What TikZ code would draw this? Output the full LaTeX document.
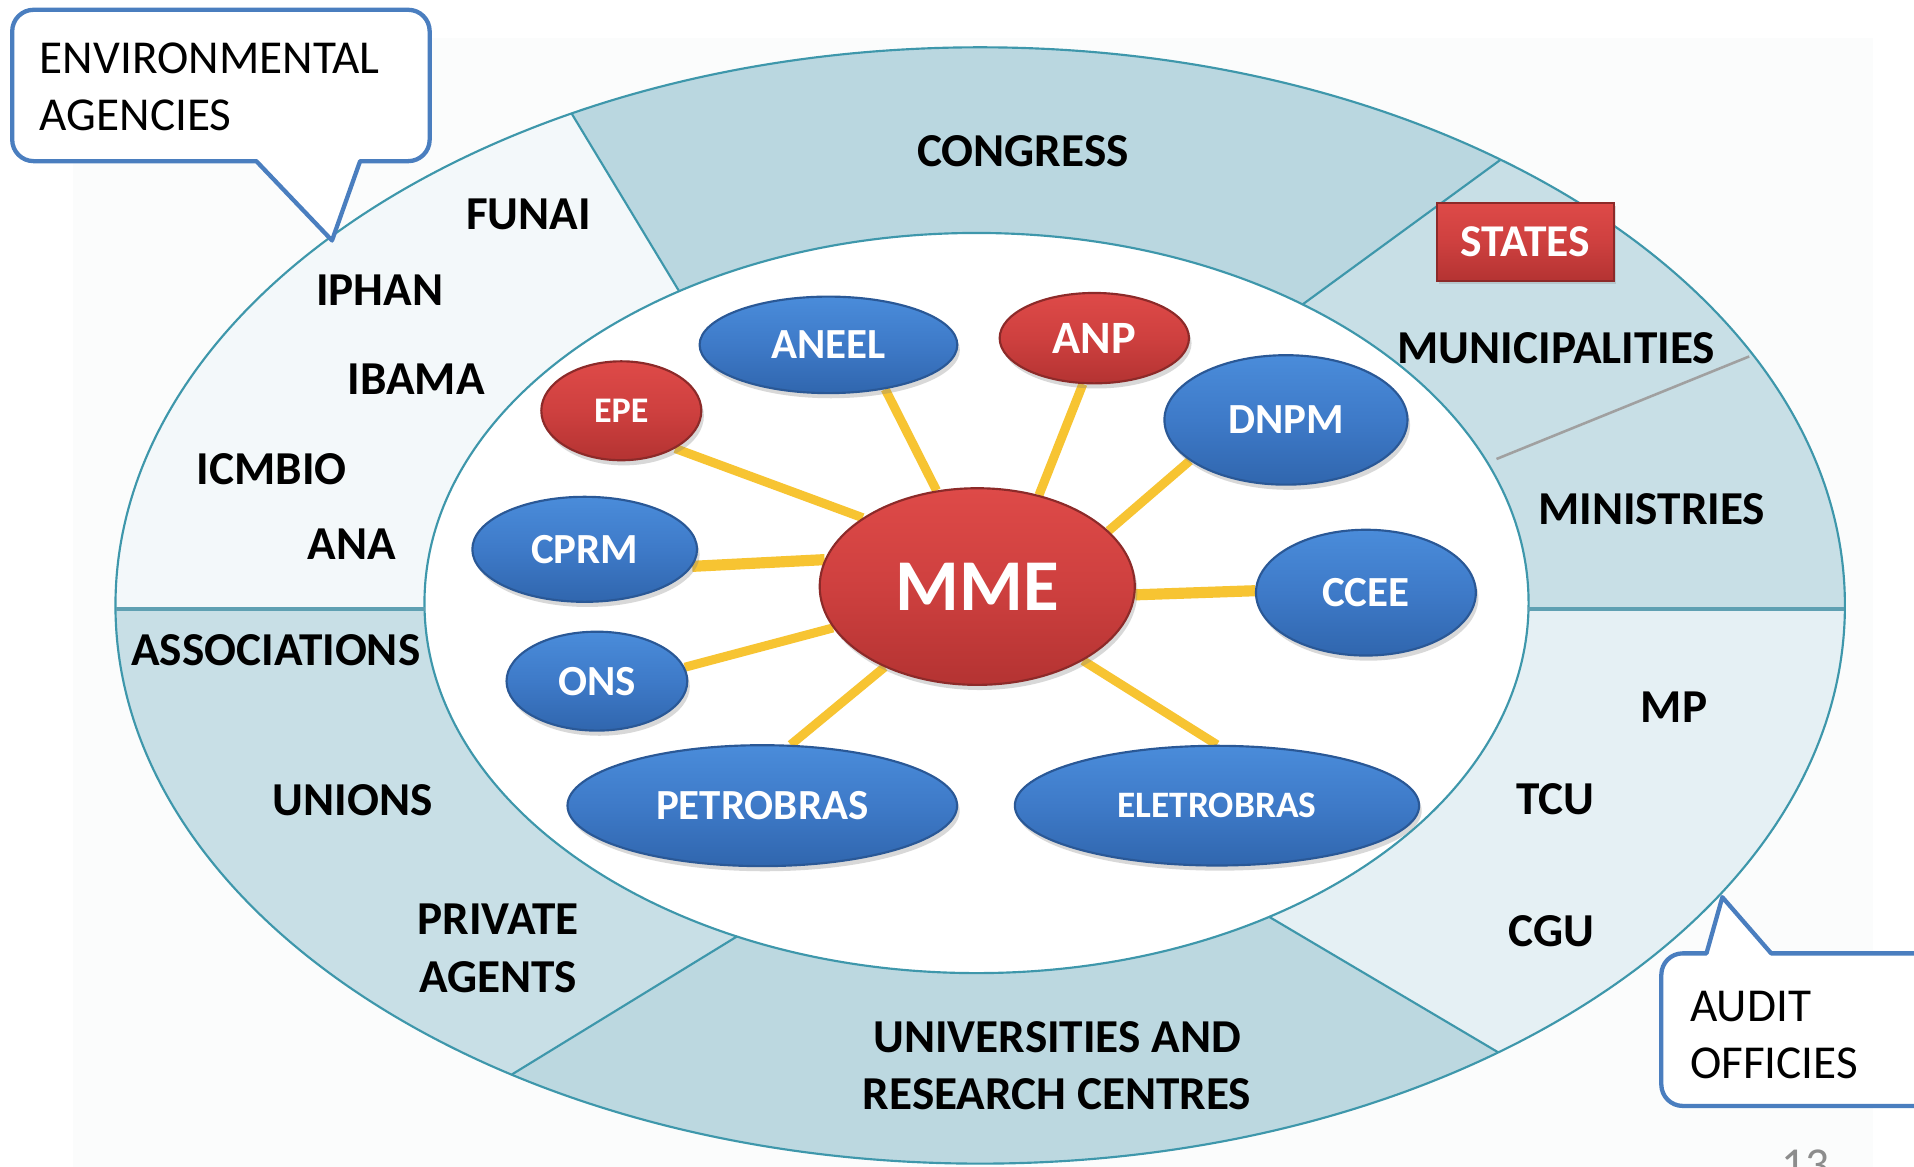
\documentclass[tikz,border=0pt]{standalone}
\usepackage{fontspec}
\setmainfont{Carlito}
\usetikzlibrary{shapes.geometric,shadows}
\definecolor{slidebg}{RGB}{251,252,252}
\definecolor{envfill}{RGB}{243,248,250}
\definecolor{congfill}{RGB}{186,215,224}
\definecolor{statefill}{RGB}{200,223,230}
\definecolor{auditfill}{RGB}{229,240,244}
\definecolor{univfill}{RGB}{188,216,224}
\definecolor{assocfill}{RGB}{200,223,230}
\definecolor{ringline}{RGB}{62,151,171}
\definecolor{divline}{RGB}{95,160,178}
\definecolor{grayline}{RGB}{160,160,160}
\definecolor{blueTop}{RGB}{74,140,218}
\definecolor{blueMid}{RGB}{62,122,200}
\definecolor{blueBot}{RGB}{48,102,174}
\definecolor{blueEdge}{RGB}{42,88,150}
\definecolor{redTop}{RGB}{222,74,72}
\definecolor{redMid}{RGB}{206,64,63}
\definecolor{redBot}{RGB}{180,51,50}
\definecolor{redEdge}{RGB}{140,42,41}
\definecolor{connyellow}{RGB}{247,196,50}
\definecolor{calloutblue}{RGB}{74,126,191}
\definecolor{pagegray}{RGB}{140,140,140}
\pgfdeclarelayer{ring}
\pgfdeclarelayer{conn}
\pgfsetlayers{ring,conn,main}
\begin{document}
\begin{tikzpicture}[x=0.01cm,y=-0.01cm,
  bluenode/.style={ellipse, inner sep=0pt, draw=blueEdge, line width=0.5pt,
    top color=blueTop, bottom color=blueBot, middle color=blueMid, text=white,
    font=\fontsize{10}{12}\selectfont\bfseries,
    drop shadow={shadow xshift=0.6pt, shadow yshift=-1.2pt, opacity=0.3}},
  rednode/.style={ellipse, inner sep=0pt, draw=redEdge, line width=0.5pt,
    top color=redTop, bottom color=redBot, middle color=redMid, text=white,
    font=\fontsize{10}{12}\selectfont\bfseries,
    drop shadow={shadow xshift=0.6pt, shadow yshift=-1.2pt, opacity=0.3}},
  connline/.style={draw=connyellow, line width=2.1pt},
  ringlbl/.style={inner sep=0pt, align=center, text=black,
    font=\fontsize{11}{13.4}\selectfont\bfseries},
  calloutbox/.style={draw=calloutblue, line width=1pt, fill=white, line join=round},
  callouttxt/.style={inner sep=0pt, align=left, anchor=north west,
    font=\fontsize{11}{13.4}\selectfont},
  ringedge/.style={draw=ringline, line width=0.5pt},
]
\useasboundingbox (0,0) rectangle (1568,956);

% ---------- central nodes ----------
\node[rednode, minimum width=2.58cm, minimum height=1.61cm,
      font=\fontsize{17}{20}\selectfont\bfseries] (MME) at (800.6,480.5) {MME};
\node[bluenode, minimum width=2.11cm, minimum height=0.79cm] (ANEEL) at (678.7,282.5) {ANEEL};
\node[rednode, minimum width=1.55cm, minimum height=0.74cm,
      font=\fontsize{10.8}{12}\selectfont\bfseries] (ANP) at (896.5,277) {ANP};
\node[rednode, minimum width=1.31cm, minimum height=0.81cm,
      font=\fontsize{8.4}{10}\selectfont\bfseries] (EPE) at (509,336.5) {EPE};
\node[bluenode, minimum width=1.99cm, minimum height=1.06cm] (DNPM) at (1053.5,344) {DNPM};
\node[bluenode, minimum width=1.84cm, minimum height=0.86cm] (CPRM) at (479,450) {CPRM};
\node[bluenode, minimum width=1.80cm, minimum height=1.03cm] (CCEE) at (1119,485.5) {CCEE};
\node[bluenode, minimum width=1.48cm, minimum height=0.81cm] (ONS) at (489,558) {ONS};
\node[bluenode, minimum width=3.19cm, minimum height=0.99cm] (PETRO) at (624.5,660) {PETROBRAS};
\node[bluenode, minimum width=3.31cm, minimum height=0.98cm,
      font=\fontsize{8.7}{10}\selectfont\bfseries] (ELETRO) at (997,660) {ELETROBRAS};

% ---------- connectors ----------
\begin{pgfonlayer}{conn}
\draw[connline] (EPE.-35.7) -- (MME.149.1);
\draw[connline] (ANEEL.-38) -- (MME.113.7);
\draw[connline] (ANP.256.7) -- (MME.56.3);
\draw[connline] (DNPM.203.4) -- (MME.23);
\draw[connline, line width=2.6pt] (CPRM.-9.7) -- (MME.170.2);
\draw[connline, line width=2.6pt] (CCEE.179) -- (MME.-3.8);
\draw[connline] (ONS.9.5) -- (MME.196.9);
\draw[connline] (PETRO.65.3) -- (MME.221.3);
\draw[connline] (ELETRO.90) -- (MME.-35);
\end{pgfonlayer}

% ---------- ring ----------
\begin{pgfonlayer}{ring}
\fill[slidebg] (60,31) rectangle (1534,960);
% sectors
\fill[envfill] plot[domain=118.2:180.38,samples=60] ({803+708*cos(\x)},{496-457*sin(\x)})
  -- plot[domain=180.95:122.6,samples=60] ({800+452*cos(\x)},{494-303*sin(\x)}) -- cycle;
\fill[congfill] plot[domain=53:118.2,samples=60] ({803+708*cos(\x)},{496-457*sin(\x)})
  -- plot[domain=122.6:53.8,samples=60] ({800+452*cos(\x)},{494-303*sin(\x)}) -- cycle;
\fill[statefill] plot[domain=-0.38:53,samples=60] ({803+708*cos(\x)},{496-457*sin(\x)})
  -- plot[domain=53.8:-0.95,samples=60] ({800+452*cos(\x)},{494-303*sin(\x)}) -- cycle;
\fill[auditfill] plot[domain=-53.2:-0.38,samples=60] ({803+708*cos(\x)},{496-457*sin(\x)})
  -- plot[domain=-0.95:-58,samples=60] ({800+452*cos(\x)},{494-303*sin(\x)}) -- cycle;
\fill[univfill] plot[domain=-122.8:-53.2,samples=60] ({803+708*cos(\x)},{496-457*sin(\x)})
  -- plot[domain=-58:-115.7,samples=60] ({800+452*cos(\x)},{494-303*sin(\x)}) -- cycle;
\fill[assocfill] plot[domain=180.38:237.2,samples=60] ({803+708*cos(\x)},{496-457*sin(\x)})
  -- plot[domain=244.3:180.95,samples=60] ({800+452*cos(\x)},{494-303*sin(\x)}) -- cycle;
% outlines
\draw[ringedge] (803,496) ellipse [x radius=7.08cm, y radius=4.57cm];
\draw[ringedge, fill=white] (800,494) ellipse [x radius=4.52cm, y radius=3.03cm];
% boundary coordinates
\coordinate (b1o) at ({803+708*cos(118.2)},{496-457*sin(118.2)});
\coordinate (b1i) at ({800+452*cos(122.6)},{494-303*sin(122.6)});
\coordinate (b2o) at ({803+708*cos(53)},{496-457*sin(53)});
\coordinate (b2i) at ({800+452*cos(53.8)},{494-303*sin(53.8)});
\coordinate (b3o) at (1433,292);
\coordinate (b3i) at (1226,376);
\coordinate (b4o) at (1511,499);
\coordinate (b4i) at (1252,499);
\coordinate (b5o) at ({803+708*cos(-53.2)},{496-457*sin(-53.2)});
\coordinate (b5i) at ({800+452*cos(-58)},{494-303*sin(-58)});
\coordinate (b6o) at ({803+708*cos(-122.8)},{496-457*sin(-122.8)});
\coordinate (b6i) at ({800+452*cos(-115.7)},{494-303*sin(-115.7)});
\coordinate (b7o) at (95,499);
\coordinate (b7i) at (348,499);
\draw[ringedge] (b1o) -- (b1i);
\draw[ringedge] (b2o) -- (b2i);
\draw[draw=grayline, line width=0.6pt] (b3o) -- (b3i);
\draw[draw=divline, line width=0.9pt] (b4o) -- (b4i);
\draw[ringedge] (b5o) -- (b5i);
\draw[ringedge] (b6o) -- (b6i);
\draw[draw=divline, line width=0.9pt] (b7o) -- (b7i);

% ring labels
\node[ringlbl] (funai) at (433,176) {FUNAI};
\node[ringlbl] (iphan) at (311,237.5) {IPHAN};
\node[ringlbl] (ibama) at (341,311) {IBAMA};
\node[ringlbl] (icmbio) at (222.5,384.5) {ICMBIO};
\node[ringlbl] (ana) at (288,446) {ANA};
\node[ringlbl] (congress) at (838,123.5) {CONGRESS};
\node[ringlbl] (munic) at (1275,285) {MUNICIPALITIES};
\node[ringlbl] (minist) at (1353,417) {MINISTRIES};
\node[ringlbl] (mp) at (1371.5,579) {MP};
\node[ringlbl] (tcu) at (1274,655) {TCU};
\node[ringlbl] (cgu) at (1271,763) {CGU};
\node[ringlbl] (univ) at (866,873) {UNIVERSITIES AND\\RESEARCH CENTRES};
\node[ringlbl] (priv) at (408,777) {PRIVATE\\AGENTS};
\node[ringlbl] (unions) at (289,655.5) {UNIONS};
\node[ringlbl] (assoc) at (226,532.5) {ASSOCIATIONS};
\end{pgfonlayer}

% STATES box
\node[rectangle, inner sep=0pt, minimum width=1.45cm, minimum height=0.64cm,
      draw=redEdge, line width=0.5pt, top color=redTop, bottom color=redBot, middle color=redMid,
      text=white, font=\fontsize{10.6}{12}\selectfont\bfseries,
      drop shadow={shadow xshift=0.5pt, shadow yshift=-0.8pt, opacity=0.25}]
      (states) at (1249.5,198) {STATES};

% ---------- callouts ----------
\coordinate (envtip) at (272,197);
\coordinate (audtip) at (1411,735);
\draw[calloutbox] (envtip) -- (210,132) [rounded corners=5pt] -- (10,132) -- (10,8) -- (352,8) -- (352,132) [sharp corners] -- (295,132) -- cycle;
\node[callouttxt] (envtxt) at (32,34) {ENVIRONMENTAL\\AGENCIES};
\draw[calloutbox] (audtip) -- (1451,781) [rounded corners=5pt] -- (1620,781) -- (1620,906) -- (1361,906) -- (1361,781) [sharp corners] -- (1398,781) -- cycle;
\node[callouttxt] (audtxt) at (1384,811) {AUDIT\\OFFICIES};

% page number
\node[inner sep=0pt, anchor=north west, text=pagegray, font=\fontsize{11}{13}\selectfont] (pgnum) at (1459,941) {13};
\end{tikzpicture}
\end{document}
